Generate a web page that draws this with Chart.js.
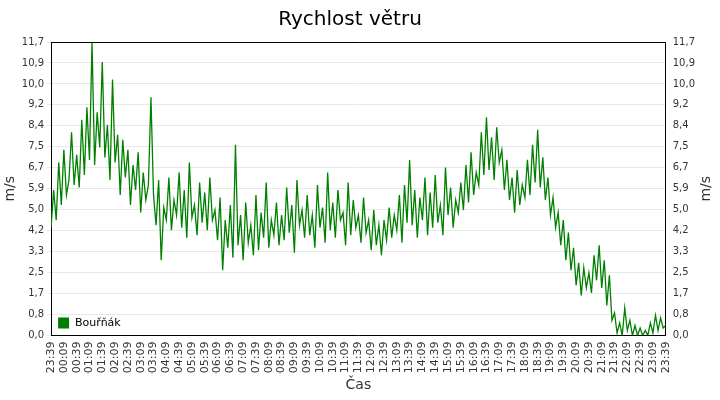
<!DOCTYPE html>
<html>
<head>
<meta charset="utf-8">
<script src="https://cdn.jsdelivr.net/npm/chart.js@4"></script>
<style>
  body { margin: 0; background: #fff; }
  #wrap { width: 720px; height: 400px; }
</style>
</head>
<body>
<div id="wrap"><canvas id="windChart"></canvas></div>
<script>
// one value every 6 minutes, starting 23:39
const stepMinutes = 6;
const windSpeed = [
  4.3,5.8,4.6,6.9,5.2,7.4,5.6,6.2,8.1,6.0,
  7.2,5.9,8.6,6.4,9.1,7.0,11.7,6.8,8.9,7.5,
  10.9,7.1,8.4,6.2,10.2,6.9,8.0,5.6,7.8,6.3,
  7.4,5.2,6.8,5.8,7.3,4.9,6.5,5.4,6.0,9.5,
  5.6,4.4,6.2,3.0,5.1,4.6,6.3,4.2,5.4,4.8,
  6.5,4.3,5.8,3.9,6.9,4.7,5.2,4.0,6.1,4.5,
  5.7,4.2,6.3,4.6,5.0,3.8,5.5,2.6,4.6,3.5,
  5.2,3.1,7.6,3.6,4.8,3.0,5.3,3.7,4.4,3.2,
  5.6,3.4,4.9,3.9,6.1,3.5,4.6,4.0,5.3,3.6,
  4.8,3.8,5.9,4.1,5.2,3.3,6.2,4.4,5.0,3.9,
  5.6,4.0,4.8,3.5,6.0,4.3,5.1,3.7,6.5,4.2,
  5.3,3.9,5.8,4.6,4.9,3.6,6.1,4.0,5.4,4.3,
  4.8,3.7,5.5,4.1,4.6,3.4,5.0,3.6,4.4,3.2,
  4.6,3.8,5.1,3.9,4.8,4.2,5.6,3.7,6.0,4.5,
  7.0,4.4,5.8,3.9,5.5,4.6,6.3,4.0,5.7,4.3,
  6.4,4.5,5.2,4.0,6.7,4.8,5.9,4.3,5.4,4.9,
  6.1,5.0,6.8,5.3,7.3,5.6,6.5,6.0,8.1,6.4,
  8.7,6.6,7.9,6.2,8.3,6.9,7.4,5.8,7.0,5.4,
  6.3,4.9,6.6,5.2,6.0,5.5,7.0,5.6,7.6,6.1,
  8.2,5.9,7.1,5.4,6.3,4.8,5.5,4.3,4.9,3.6,
  4.6,3.0,4.1,2.6,3.5,2.0,2.9,1.6,2.7,1.9,
  2.5,1.7,3.2,2.2,3.6,1.9,3.0,1.2,2.4,0.6,
  0.9,0.1,0.5,0.0,1.1,0.2,0.6,0.0,0.4,0.0,
  0.3,0.0,0.2,0.0,0.5,0.1,0.8,0.2,0.7,0.3,
  0.4
];
const timeLabels = [
  "23:39","00:09","00:39","01:09","01:39","02:09","02:39","03:09","03:39","04:09",
  "04:39","05:09","05:39","06:09","06:39","07:09","07:39","08:09","08:39","09:09",
  "09:39","10:09","10:39","11:09","11:39","12:09","12:39","13:09","13:39","14:09",
  "14:39","15:09","15:39","16:09","16:39","17:09","17:39","18:09","18:39","19:09",
  "19:39","20:09","20:39","21:09","21:39","22:09","22:39","23:09","23:39"
];
const yTickLabels = ["0,0","0,8","1,7","2,5","3,3","4,2","5,0","5,9","6,7","7,5","8,4","9,2","10,0","10,9","11,7"];
const yMax = 11.7;
const seriesName = "Bouřňák";
const unitLabel = "m/s";

const points = windSpeed.map((v, i) => ({ x: i * stepMinutes, y: v }));

const tickFont = { family: 'DejaVu Sans', size: 10 };
const yTicks = {
  stepSize: yMax / 14,
  color: '#333',
  font: tickFont,
  padding: 3,
  callback: (v, i) => yTickLabels[i]
};

// legend inside the plot, frame on top, right axis title reading bottom-to-top
const extras = {
  id: 'extras',
  afterDraw(chart) {
    const { ctx, chartArea } = chart;
    ctx.save();
    ctx.strokeStyle = '#000';
    ctx.lineWidth = 1;
    ctx.beginPath();
    ctx.moveTo(chartArea.left, chartArea.top + 0.5);
    ctx.lineTo(chartArea.right, chartArea.top + 0.5);
    ctx.stroke();

    const x = chartArea.left + 7, y = chartArea.bottom - 18;
    ctx.fillStyle = '#008000';
    ctx.fillRect(x, y, 11, 11);
    ctx.fillStyle = '#000';
    ctx.font = '11px "DejaVu Sans"';
    ctx.textBaseline = 'middle';
    ctx.fillText(seriesName, x + 17, y + 6);

    ctx.fillStyle = '#333';
    ctx.font = '14px "DejaVu Sans"';
    ctx.textAlign = 'center';
    ctx.translate(706, (chartArea.top + chartArea.bottom) / 2);
    ctx.rotate(-Math.PI / 2);
    ctx.fillText(unitLabel, 0, 0);
    ctx.restore();
  }
};

new Chart(document.getElementById('windChart'), {
  type: 'line',
  data: {
    datasets: [{
      label: seriesName,
      data: points,
      borderColor: '#008000',
      borderWidth: 1.3,
      pointRadius: 0,
      tension: 0,
      fill: false
    }]
  },
  options: {
    responsive: true,
    maintainAspectRatio: false,
    animation: false,
    layout: { padding: { left: 2, right: 22, top: 4, bottom: 6 } },
    plugins: {
      legend: { display: false },
      tooltip: { enabled: false },
      title: {
        display: true,
        text: 'Rychlost větru',
        color: '#000',
        font: { family: 'DejaVu Sans', size: 20, weight: 'normal' },
        padding: { top: 4, bottom: 10 }
      }
    },
    scales: {
      x: {
        type: 'linear',
        min: 0,
        max: 1440,
        ticks: {
          stepSize: 30,
          autoSkip: false,
          maxRotation: 90,
          minRotation: 90,
          color: '#333',
          font: { family: 'DejaVu Sans', size: 11 },
          padding: 2,
          callback: (v) => timeLabels[Math.round(v / 30)]
        },
        grid: { display: false, tickLength: 4 },
        border: { color: '#000' },
        title: { display: true, text: 'Čas', color: '#333', font: { family: 'DejaVu Sans', size: 14 }, padding: { top: 2, bottom: 0 } }
      },
      y: {
        position: 'left',
        min: 0,
        max: yMax,
        ticks: yTicks,
        grid: { color: '#e8e8e8', tickLength: 4 },
        border: { color: '#000' },
        title: { display: true, text: unitLabel, color: '#333', font: { family: 'DejaVu Sans', size: 14 }, padding: { top: 0, bottom: 0 } }
      },
      y2: {
        position: 'right',
        min: 0,
        max: yMax,
        ticks: yTicks,
        grid: { display: false, tickLength: 4 },
        border: { color: '#000' }
      }
    }
  },
  plugins: [extras]
});
</script>
</body>
</html>
